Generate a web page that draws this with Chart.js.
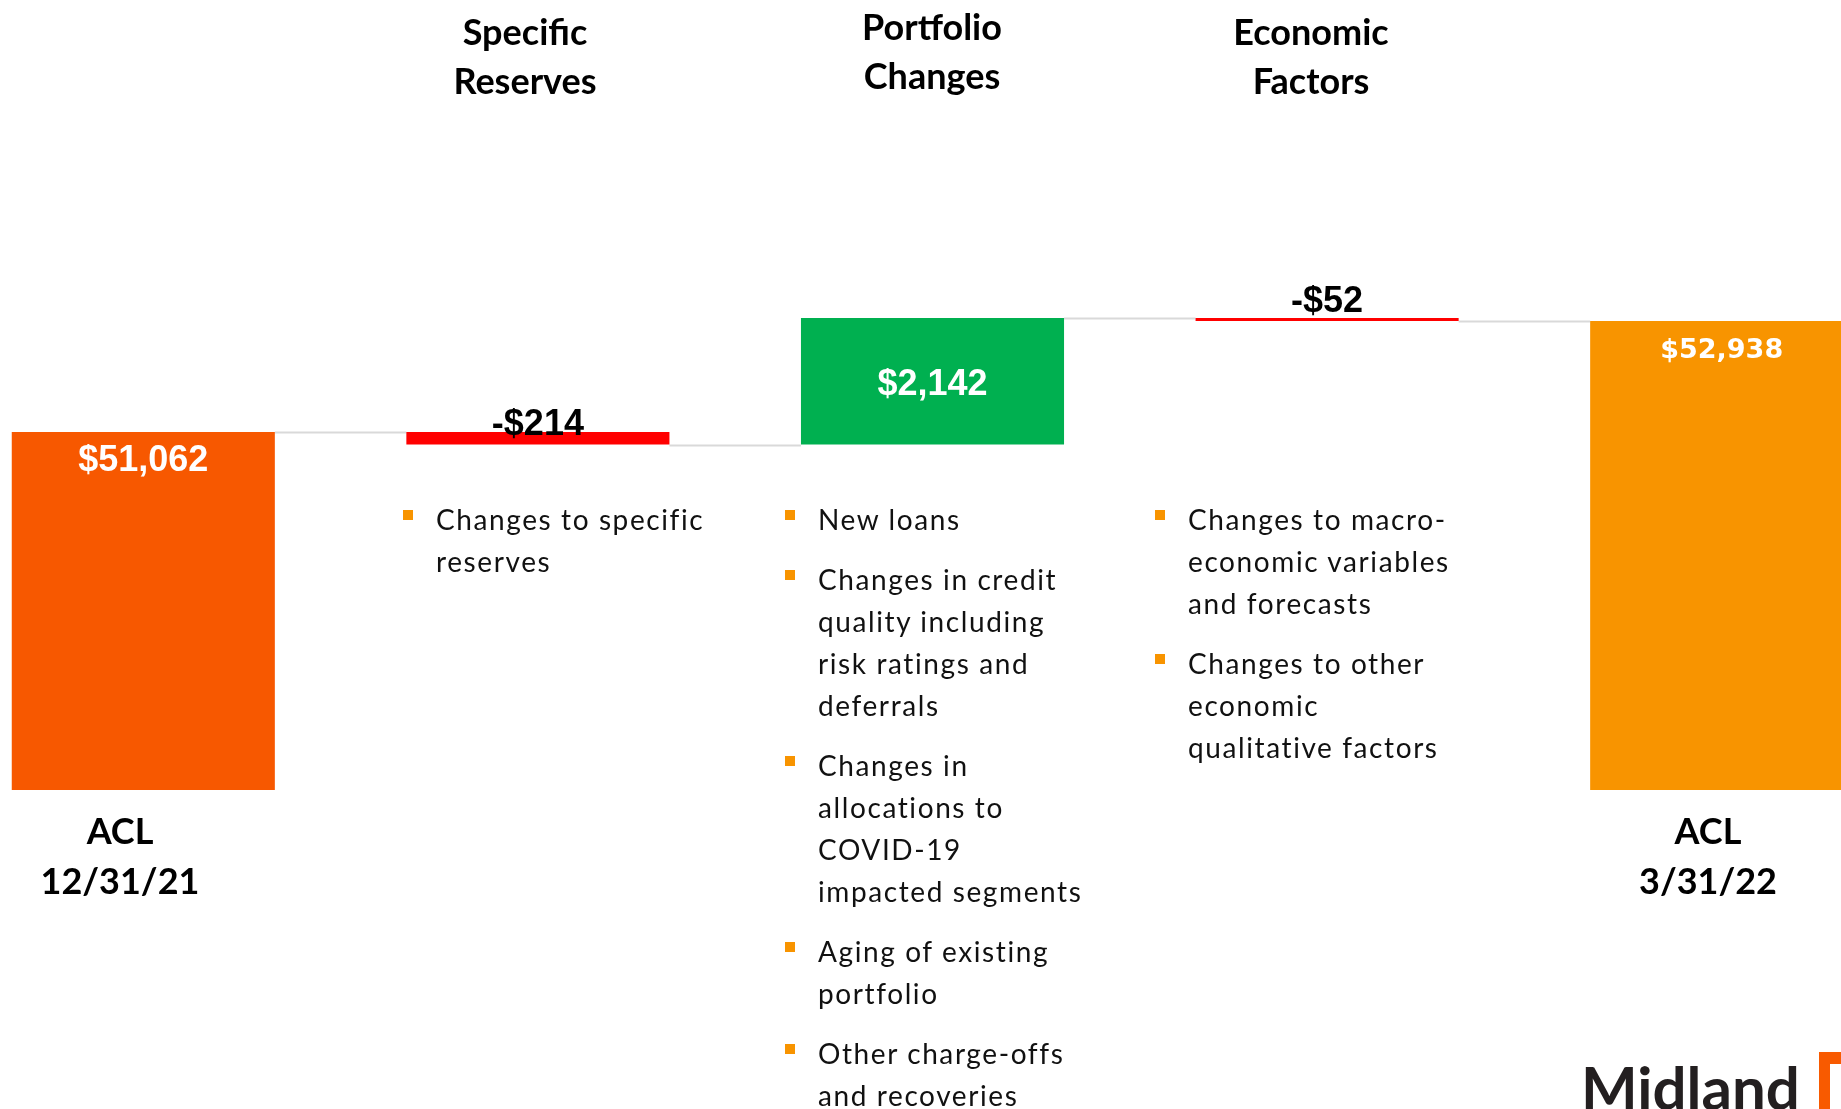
<!DOCTYPE html>
<html>
<head>
<meta charset="utf-8">
<title>ACL rollforward</title>
<script src="https://cdn.jsdelivr.net/npm/chart.js@4.4.1/dist/chart.umd.min.js"></script>
<style>
  html, body { margin: 0; padding: 0; background: #fff; }
  body { width: 1841px; height: 1109px; overflow: hidden; position: relative; font-family: Lato, sans-serif; color: #000; }
  #chart { position: absolute; left: -54px; top: 0; }
  .head { position: absolute; transform: translateX(-50%); text-align: center; font-weight: 700; font-size: 36px; line-height: 49px; white-space: nowrap; }
  .acl { position: absolute; transform: translateX(-50%); text-align: center; font-weight: 700; font-size: 36px; line-height: 50px; white-space: nowrap; }
  ul.notes { position: absolute; list-style: none; margin: 0; padding: 0; font-size: 28px; letter-spacing: 1.6px; line-height: 42px; color: #111; }
  ul.notes li { position: relative; padding-left: 33px; margin-bottom: 18px; white-space: nowrap; }
  ul.notes li::before { content: ''; position: absolute; left: 0; top: 12px; width: 10px; height: 10px; background: #f89400; }
  .logo { position: absolute; left: 1581px; top: 1057px; font: 700 60px Lato, sans-serif; line-height: 60px; color: #231f20; }
  .logo-mark { position: absolute; left: 1819px; top: 1052px; width: 40px; height: 80px; border-left: 11px solid #f85a00; border-top: 12px solid #f85a00; }
</style>
</head>
<body>
<canvas id="chart" width="1973" height="1109"></canvas>
<div id="overlay"></div>
<div class="logo">Midland</div>
<div class="logo-mark"></div>
<script>
// waterfall data
const categories = ['ACL 12/31/21', 'Specific Reserves', 'Portfolio Changes', 'Economic Factors', 'ACL 3/31/22'];
const openingBalance = 51062;
const changes = [-214, 2142, -52];
const closingBalance = 52938;
const valueLabels = ['$51,062', '-$214', '$2,142', '-$52', '$52,938'];
const barColors = ['#f75800', '#ff0000', '#00b050', '#ff0000', '#f89400'];
const yMin = 45000;
const yMax = 58000;

// text around the bars
const headers = [null, ['Specific', 'Reserves'], ['Portfolio', 'Changes'], ['Economic', 'Factors'], null];
const aclLabels = [['ACL', '12/31/21'], null, null, null, ['ACL', '3/31/22']];
const notes = [
  null,
  [['Changes to specific', 'reserves']],
  [['New loans'],
   ['Changes in credit', 'quality including', 'risk ratings and', 'deferrals'],
   ['Changes in', 'allocations to', 'COVID-19', 'impacted segments'],
   ['Aging of existing', 'portfolio'],
   ['Other charge-offs', 'and recoveries']],
  [['Changes to macro-', 'economic variables', 'and forecasts'],
   ['Changes to other', 'economic', 'qualitative factors']],
  null
];

// where the labels sit (page px)
const headerPos = [null, {x: 525, y: 7}, {x: 932, y: 2}, {x: 1311, y: 7}, null];
const aclPos = [{x: 120, y: 805}, null, null, null, {x: 1708, y: 805}];
const notesPos = [null, {x: 403, y: 498}, {x: 785, y: 498}, {x: 1155, y: 498}, null];
// label offset from bar top, in px (null = centred in bar)
const labelOffsets = [29, -7, null, -16, 30];

// floating ranges for each bar
const ranges = [[yMin, openingBalance]];
let running = openingBalance;
changes.forEach(c => {
  ranges.push([running, running + c]);
  running += c;
});
ranges.push([yMin, closingBalance]);

const overlay = document.getElementById('overlay');
headers.forEach((h, i) => {
  if (!h) return;
  const d = document.createElement('div');
  d.className = 'head';
  d.style.left = headerPos[i].x + 'px';
  d.style.top = headerPos[i].y + 'px';
  d.innerHTML = h.join('<br>');
  overlay.appendChild(d);
});
aclLabels.forEach((a, i) => {
  if (!a) return;
  const d = document.createElement('div');
  d.className = 'acl';
  d.style.left = aclPos[i].x + 'px';
  d.style.top = aclPos[i].y + 'px';
  d.innerHTML = a.join('<br>');
  overlay.appendChild(d);
});
notes.forEach((list, i) => {
  if (!list) return;
  const ul = document.createElement('ul');
  ul.className = 'notes';
  ul.style.left = notesPos[i].x + 'px';
  ul.style.top = notesPos[i].y + 'px';
  list.forEach(lines => {
    const li = document.createElement('li');
    li.innerHTML = lines.join('<br>');
    ul.appendChild(li);
  });
  overlay.appendChild(ul);
});

const connectors = {
  id: 'connectors',
  beforeDatasetsDraw(chart) {
    const ctx = chart.ctx;
    const y = chart.scales.y;
    const bars = chart.getDatasetMeta(0).data;
    ctx.save();
    ctx.strokeStyle = '#d9d9d9';
    ctx.lineWidth = 2;
    for (let i = 0; i < bars.length - 1; i++) {
      const py = Math.round(y.getPixelForValue(ranges[i][1])) + 0.5;
      ctx.beginPath();
      ctx.moveTo(bars[i].x + bars[i].width / 2, py);
      ctx.lineTo(bars[i + 1].x - bars[i + 1].width / 2, py);
      ctx.stroke();
    }
    ctx.restore();
  }
};

const barValues = {
  id: 'barValues',
  afterDatasetsDraw(chart) {
    const ctx = chart.ctx;
    const bars = chart.getDatasetMeta(0).data;
    ctx.save();
    ctx.textAlign = 'center';
    ctx.textBaseline = 'middle';
    bars.forEach((bar, i) => {
      const top = Math.min(bar.y, bar.base);
      const bottom = Math.max(bar.y, bar.base);
      const off = labelOffsets[i];
      let ty;
      if (off === null) {
        ty = (top + bottom) / 2 + 4;
      } else {
        ty = top + off;
      }
      const inside = off === null || off > 0;
      ctx.fillStyle = inside ? '#ffffff' : '#000000';
      ctx.font = i === bars.length - 1 ? 'bold 27px "DejaVu Sans"' : 'bold 36px "Liberation Sans", Arial, sans-serif';
      ctx.fillText(valueLabels[i], bar.x, ty);
    });
    ctx.restore();
  }
};

new Chart(document.getElementById('chart'), {
  type: 'bar',
  data: {
    labels: categories,
    datasets: [{
      data: ranges,
      backgroundColor: barColors,
      borderWidth: 0,
      borderSkipped: false,
      barPercentage: 0.6667,
      categoryPercentage: 1
    }]
  },
  options: {
    responsive: false,
    animation: false,
    layout: { padding: { top: 22, bottom: 319, left: 0, right: 0 } },
    plugins: { legend: { display: false }, tooltip: { enabled: false } },
    scales: {
      x: { display: false },
      y: { display: false, min: yMin, max: yMax }
    }
  },
  plugins: [connectors, barValues]
});
</script>
</body>
</html>
